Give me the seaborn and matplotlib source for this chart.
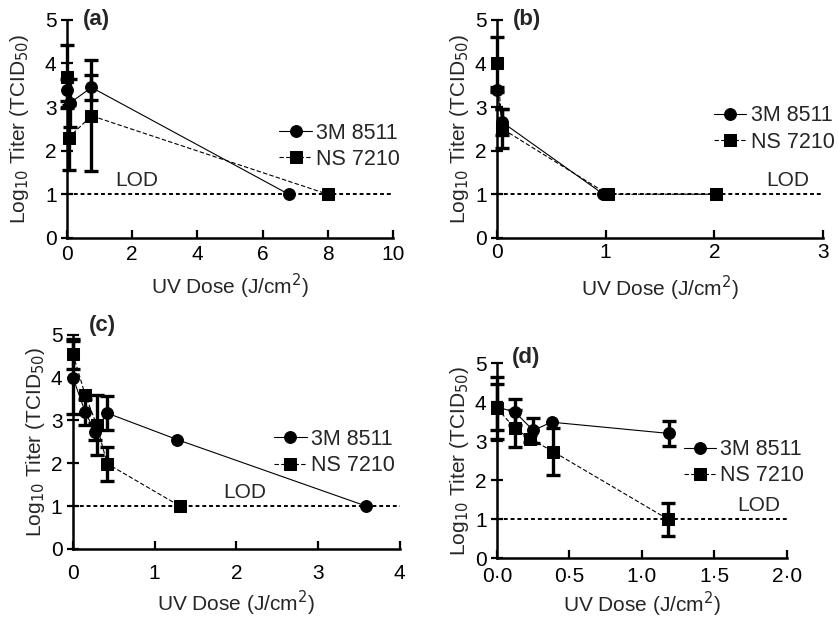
import matplotlib

matplotlib.use("Agg")
import matplotlib.pyplot as plt
import numpy as np
import pandas as pd
import seaborn as sns
from matplotlib.ticker import FuncFormatter

MASKS = ["3M 8511", "NS 7210"]

# panel (a)
a_3m_dose = [0.0, 0.1, 0.75, 6.8]
a_3m_titer = [3.4, 3.1, 3.45, 1.0]
a_3m_err = [0.25, 0.55, 0.28, 0.0]
a_ns_dose = [0.0, 0.05, 0.75, 8.0]
a_ns_titer = [3.7, 2.3, 2.8, 1.0]
a_ns_err = [0.72, 0.75, 1.27, 0.0]

# panel (b)
b_3m_dose = [0.0, 0.05, 0.98]
b_3m_titer = [3.4, 2.65, 1.0]
b_3m_err = [0.05, 0.3, 0.0]
b_ns_dose = [0.0, 0.05, 1.02, 2.02]
b_ns_titer = [4.0, 2.5, 1.0, 1.0]
b_ns_err = [0.6, 0.45, 0.0, 0.0]

# panel (c)
c_3m_dose = [0.0, 0.15, 0.27, 0.42, 1.28, 3.59]
c_3m_titer = [4.0, 3.2, 2.74, 3.17, 2.55, 1.0]
c_3m_err = [0.85, 0.3, 0.2, 0.4, 0.0, 0.0]
c_ns_dose = [0.0, 0.15, 0.29, 0.42, 1.31]
c_ns_titer = [4.55, 3.6, 2.9, 1.99, 1.0]
c_ns_err = [0.35, 0.0, 0.7, 0.4, 0.0]

# panel (d)
d_3m_dose = [0.0, 0.124, 0.25, 0.377, 1.19]
d_3m_titer = [3.88, 3.75, 3.28, 3.49, 3.2]
d_3m_err = [0.6, 0.33, 0.32, 0.0, 0.32]
d_ns_dose = [0.0, 0.124, 0.228, 0.39, 1.18]
d_ns_titer = [3.85, 3.33, 3.07, 2.73, 1.0]
d_ns_err = [0.8, 0.48, 0.1, 0.6, 0.43]

x_max = {"a": 10, "b": 3, "c": 4, "d": 2}
x_step = {"a": 2, "b": 1, "c": 1, "d": 0.5}


def panel_frame(m3, ns):
    rows = []
    for mask, (x, y, e) in zip(MASKS, [m3, ns]):
        for xi, yi, ei in zip(x, y, e):
            rows.append({"dose": xi, "titer": yi, "err": ei, "mask": mask})
    return pd.DataFrame(rows)


panels = {
    "a": panel_frame((a_3m_dose, a_3m_titer, a_3m_err), (a_ns_dose, a_ns_titer, a_ns_err)),
    "b": panel_frame((b_3m_dose, b_3m_titer, b_3m_err), (b_ns_dose, b_ns_titer, b_ns_err)),
    "c": panel_frame((c_3m_dose, c_3m_titer, c_3m_err), (c_ns_dose, c_ns_titer, c_ns_err)),
    "d": panel_frame((d_3m_dose, d_3m_titer, d_3m_err), (d_ns_dose, d_ns_titer, d_ns_err)),
}

# axes boxes in figure fractions
boxes = {
    "a": [0.080, 0.617, 0.389, 0.351],
    "b": [0.593, 0.617, 0.389, 0.351],
    "c": [0.087, 0.116, 0.390, 0.345],
    "d": [0.593, 0.101, 0.346, 0.314],
}
legend_at = {"a": (0.625, 0.42), "b": (0.64, 0.50), "c": (0.59, 0.45), "d": (0.615, 0.49)}
lod_at = {"a": 1.47, "b": 2.48, "c": 1.84, "d": 1.66}
label_y = {"a": 1.0, "b": 1.0, "c": 1.045, "d": 1.03}
xlabel_pad = {"a": 6, "b": 8, "c": 4, "d": 3}
ylabel_pad = {"a": 10, "b": 3, "c": 3, "d": 3}
xtick_pad = {"a": 5, "b": 4, "c": 11, "d": 6}

FS = 15

sns.set_style("ticks")
plt.rcParams["font.family"] = ["Liberation Sans", "DejaVu Sans"]
plt.rcParams["font.size"] = FS

fig = plt.figure(figsize=(8.38, 6.21), dpi=100)

for key, df in panels.items():
    ax = fig.add_axes(boxes[key])
    ax.axhline(1, color="black", ls=(0, (2, 1.5)), lw=1.4, zorder=1)
    for mask in MASKS:
        sub = df[(df["mask"] == mask) & (df["err"] > 0)]
        eb = ax.errorbar(sub["dose"], sub["titer"], yerr=sub["err"], fmt="none",
                         ecolor="black", elinewidth=2.4, capsize=5, capthick=2.4, zorder=3)
        for art in eb.lines[1] + eb.lines[2]:
            art.set_clip_on(False)
    sns.lineplot(data=df, x="dose", y="titer", style="mask", style_order=MASKS,
                 markers={"3M 8511": "o", "NS 7210": "s"},
                 dashes={"3M 8511": "", "NS 7210": (4, 2)},
                 color="black", sort=False, estimator=None, markersize=8.5,
                 markeredgecolor="black", linewidth=0.8, ax=ax, zorder=4, clip_on=False)
    handles, labels = ax.get_legend_handles_labels()
    for h in handles:
        h.set_markeredgecolor("black")
        h.set_markersize(8.5)
    ax.legend(handles, labels, loc="center left", bbox_to_anchor=legend_at[key],
              frameon=False, handlelength=1.5, handletextpad=0.2, labelspacing=0.25,
              borderaxespad=0, fontsize=FS + 0.5)

    ax.text(lod_at[key], 1.1, "LOD", fontsize=FS, va="bottom")
    ax.text(0.05, label_y[key], f"({key})", transform=ax.transAxes,
            fontsize=FS + 1, fontweight="bold", va="center")

    ax.set_xlim(0, x_max[key])
    ax.set_ylim(0, 5)
    ax.set_xticks(np.arange(0, x_max[key] + 1e-9, x_step[key]))
    ax.set_yticks(range(6))
    if key == "d":
        ax.xaxis.set_major_formatter(FuncFormatter(lambda v, p: f"{v:.1f}".replace(".", "\u00b7")))
    ax.set_xlabel("UV Dose (J/cm$^{2}$)", fontsize=FS, labelpad=xlabel_pad[key])
    ax.set_ylabel("Log$_{10}$ Titer (TCID$_{50}$)", fontsize=FS, labelpad=ylabel_pad[key])
    sns.despine(ax=ax)
    for side in ["left", "bottom"]:
        ax.spines[side].set_linewidth(1.8)
        ax.spines[side].set_color("black")
    ax.tick_params(axis="y", direction="inout", length=8, width=1.6, labelsize=FS, colors="black")
    ax.tick_params(axis="x", direction="in", length=6, width=1.6, labelsize=FS,
                   colors="black", pad=xtick_pad[key])

fig.savefig("out.png", dpi=100)
